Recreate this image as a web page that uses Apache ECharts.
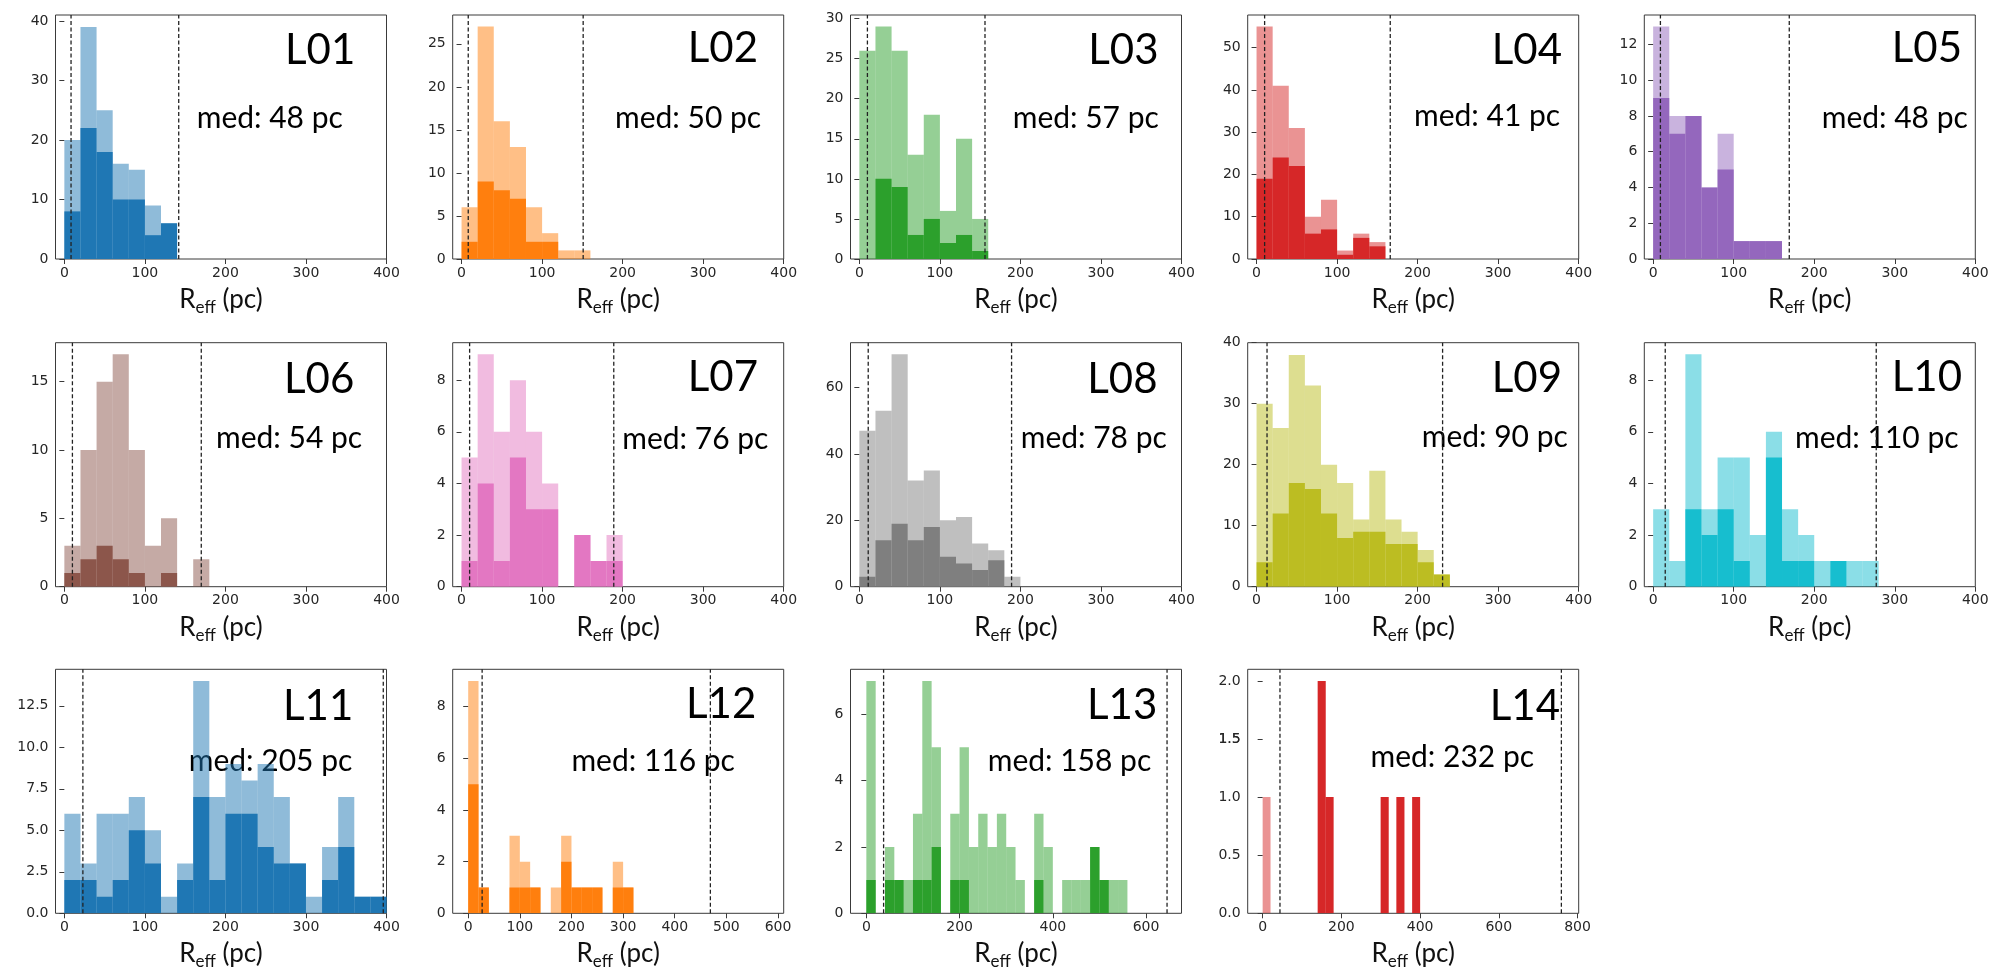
<!DOCTYPE html>
<html><head><meta charset="utf-8">
<script src="https://cdn.jsdelivr.net/npm/echarts@6/dist/echarts.min.js"></script>
<style>html,body{margin:0;padding:0;background:#fff}#c{width:1995px;height:968px}</style>
</head><body><div id="c"></div>
<script>
// ---------- data ----------
const panels = ['L01','L02','L03','L04','L05','L06','L07','L08','L09','L10','L11','L12','L13','L14'];
const medians = [48, 50, 57, 41, 48, 54, 76, 78, 90, 110, 205, 116, 158, 232];
const binWidth = 20; // pc, bins start at 0

const L01_all = [20, 39, 25, 16, 15, 9, 6];
const L01_sub = [8, 22, 18, 10, 10, 4, 6];
const L02_all = [6, 27, 16, 13, 6, 3, 1, 1];
const L02_sub = [2, 9, 8, 7, 2, 2, 0, 0];
const L03_all = [26, 29, 26, 13, 18, 6, 15, 5];
const L03_sub = [0, 10, 9, 3, 5, 2, 3, 1];
const L04_all = [55, 41, 31, 10, 14, 2, 6, 4];
const L04_sub = [19, 24, 22, 6, 7, 1, 5, 3];
const L05_all = [13, 8, 8, 4, 7, 1, 1, 1];
const L05_sub = [9, 7, 8, 4, 5, 1, 1, 1];
const L06_all = [3, 10, 15, 17, 10, 3, 5, 0, 2];
const L06_sub = [1, 2, 3, 2, 1, 0, 1, 0, 0];
const L07_all = [5, 9, 6, 8, 6, 4, 0, 2, 1, 2];
const L07_sub = [1, 4, 1, 5, 3, 3, 0, 2, 1, 1];
const L08_all = [47, 53, 70, 32, 35, 20, 21, 13, 11, 3];
const L08_sub = [3, 14, 19, 14, 18, 9, 7, 5, 8, 0];
const L09_all = [30, 26, 38, 33, 20, 17, 11, 19, 11, 9, 6, 2];
const L09_sub = [4, 12, 17, 16, 12, 8, 9, 9, 7, 7, 4, 2];
const L10_all = [3, 1, 9, 3, 5, 5, 2, 6, 3, 2, 1, 1, 1, 1];
const L10_sub = [0, 0, 3, 2, 3, 1, 0, 5, 1, 1, 0, 1, 0, 0];
const L11_all = [6, 3, 6, 6, 7, 5, 1, 3, 14, 7, 9, 8, 9, 7, 3, 1, 4, 7, 1, 1];
const L11_sub = [2, 2, 1, 2, 5, 3, 0, 2, 7, 2, 6, 6, 4, 3, 3, 0, 2, 4, 1, 1];
const L12_all = [9, 1, 0, 0, 3, 2, 1, 0, 1, 3, 1, 1, 1, 0, 2, 1];
const L12_sub = [5, 1, 0, 0, 1, 1, 1, 0, 0, 2, 1, 1, 1, 0, 1, 1];
const L13_all = [7, 0, 2, 1, 1, 3, 7, 5, 0, 3, 5, 2, 3, 2, 3, 2, 1, 0, 3, 2, 0, 1, 1, 1, 2, 1, 1, 1];
const L13_sub = [1, 0, 1, 1, 0, 1, 1, 2, 0, 1, 1, 0, 0, 0, 0, 0, 0, 0, 1, 0, 0, 0, 0, 0, 2, 1, 0, 0];
const L14_all = [1, 0, 0, 0, 0, 0, 0, 2, 1, 0, 0, 0, 0, 0, 0, 1, 0, 1, 0, 1];
const L14_sub = [0, 0, 0, 0, 0, 0, 0, 2, 1, 0, 0, 0, 0, 0, 0, 1, 0, 1, 0, 1];

const lowerLine = [8.3, 8.3, 10, 10, 9, 10, 10, 11, 13, 15, 23, 27, 37, 44];
const upperLine = [142, 151, 156, 166, 169, 170, 189, 189, 231, 277, 396, 469, 645, 759];

const xMin = [-11, -11, -11, -11, -11, -11, -11, -11, -11, -11, -11, -30, -34, -38];
const xMax = [400, 400, 400, 400, 400, 400, 400, 400, 400, 400, 400, 611, 676, 803];
const yMax = [41, 28.35, 30.45, 57.75, 13.65, 17.85, 9.45, 73.5, 40, 9.45, 14.7, 9.45, 7.35, 2.1];

const xTicksStd = [0, 100, 200, 300, 400];
const xTicksL12 = [0, 100, 200, 300, 400, 500, 600];
const xTicksL13 = [0, 200, 400, 600];
const xTicksL14 = [0, 200, 400, 600, 800];
const yTicks = [
  [0, 10, 20, 30, 40], [0, 5, 10, 15, 20, 25], [0, 5, 10, 15, 20, 25, 30], [0, 10, 20, 30, 40, 50],
  [0, 2, 4, 6, 8, 10, 12], [0, 5, 10, 15], [0, 2, 4, 6, 8], [0, 20, 40, 60], [0, 10, 20, 30, 40],
  [0, 2, 4, 6, 8], [0, 2.5, 5, 7.5, 10, 12.5], [0, 2, 4, 6, 8], [0, 2, 4, 6], [0, 0.5, 1, 1.5, 2]
];
const yDecimals = [0, 0, 0, 0, 0, 0, 0, 0, 0, 0, 1, 0, 0, 1];
const colors = ['#1f77b4', '#ff7f0e', '#2ca02c', '#d62728', '#9467bd', '#8c564b', '#e377c2',
  '#7f7f7f', '#bcbd22', '#17becf', '#1f77b4', '#ff7f0e', '#2ca02c', '#d62728'];

const allCounts = [L01_all, L02_all, L03_all, L04_all, L05_all, L06_all, L07_all, L08_all, L09_all, L10_all, L11_all, L12_all, L13_all, L14_all];
const subCounts = [L01_sub, L02_sub, L03_sub, L04_sub, L05_sub, L06_sub, L07_sub, L08_sub, L09_sub, L10_sub, L11_sub, L12_sub, L13_sub, L14_sub];
const xTicks = [xTicksStd, xTicksStd, xTicksStd, xTicksStd, xTicksStd, xTicksStd, xTicksStd, xTicksStd, xTicksStd, xTicksStd, xTicksStd, xTicksL12, xTicksL13, xTicksL14];

// ---------- layout ----------
const colLeft = [55.5, 452.7, 850.5, 1247.7, 1644.3];
const rowTop = [15, 342.7, 669.3];
const boxW = 331, boxH = 244;
const namePos = [[285, 66.7], [687.7, 64], [1088.3, 66.7], [1491.7, 66.7], [1891.7, 64],
  [284, 395], [687.7, 393.3], [1087.3, 395], [1491.7, 394], [1891.7, 393.3],
  [283, 722.3], [686, 720], [1087, 721.7], [1489.8, 722.3]];
const medPos = [[196.7, 130], [615, 129.3], [1012.7, 129.3], [1414, 127.3], [1821.7, 129.3],
  [216, 450], [622.3, 450.7], [1020.7, 450], [1421.7, 448.3], [1795, 450],
  [188.8, 772.3], [571.4, 772.3], [987.7, 772.3], [1370.5, 769]];

function rgba(hex, a) {
  const n = parseInt(hex.slice(1), 16);
  return 'rgba(' + (n >> 16 & 255) + ',' + (n >> 8 & 255) + ',' + (n & 255) + ',' + a + ')';
}
function histData(counts) {
  const out = [];
  counts.forEach((c, i) => { if (c > 0) out.push([i * binWidth, (i + 1) * binWidth, c]); });
  return out;
}
function barRenderer(fill) {
  return function (params, api) {
    const p0 = api.coord([api.value(0), 0]);
    const p1 = api.coord([api.value(1), api.value(2)]);
    return { type: 'rect', shape: { x: p0[0], y: p1[1], width: p1[0] - p0[0], height: p0[1] - p1[1] },
      style: { fill: fill } };
  };
}

const tickFont = { fontFamily: 'DejaVu Sans', fontSize: 14, color: '#262626' };
const grids = [], xAxes = [], yAxes = [], series = [], graphics = [];
panels.forEach((name, i) => {
  const r = Math.floor(i / 5), c = i % 5;
  const yt = yTicks[i];
  grids.push({ left: colLeft[c], top: rowTop[r], width: boxW, height: boxH, show: true,
    outerBoundsMode: 'none', containLabel: false,
    borderColor: '#3a3a3a', borderWidth: 1, backgroundColor: 'transparent' });
  xAxes.push({ type: 'value', gridIndex: i, min: xMin[i], max: xMax[i],
    axisLine: { show: false }, splitLine: { show: false },
    axisTick: { show: true, length: 5, lineStyle: { color: '#3a3a3a' }, customValues: xTicks[i] },
    axisLabel: Object.assign({ margin: 7, customValues: xTicks[i], hideOverlap: false, formatter: v => String(v) }, tickFont),
    name: '{r|R}{s|eff}{r| (pc)}', nameLocation: 'middle', nameGap: 25, nameMoveOverlap: false,
    nameTextStyle: { verticalAlign: 'top', rich: {
      r: { fontFamily: 'Lato', fontSize: 26, color: '#111', lineHeight: 31 },
      s: { fontFamily: 'Lato', fontSize: 17, color: '#111', lineHeight: 31, padding: [16, 0, 0, 0] } } } });
  yAxes.push({ type: 'value', gridIndex: i, min: 0, max: yMax[i],
    axisLine: { show: false }, splitLine: { show: false },
    axisTick: { show: true, length: 5, lineStyle: { color: '#3a3a3a' }, customValues: yt },
    axisLabel: Object.assign({ margin: 7, customValues: yt, hideOverlap: false, interval: 0,
      showMinLabel: true, showMaxLabel: true,
      formatter: v => Number(v).toFixed(yDecimals[i]) }, tickFont) });
  series.push({ type: 'custom', xAxisIndex: i, yAxisIndex: i, clip: true, silent: true,
    renderItem: barRenderer(rgba(colors[i], 0.5)), encode: { x: [0, 1], y: 2 }, data: histData(allCounts[i]) });
  series.push({ type: 'custom', xAxisIndex: i, yAxisIndex: i, clip: true, silent: true,
    renderItem: barRenderer(colors[i]), encode: { x: [0, 1], y: 2 }, data: histData(subCounts[i]) });
  [lowerLine[i], upperLine[i]].forEach(xv => {
    series.push({ type: 'line', xAxisIndex: i, yAxisIndex: i, symbol: 'none', silent: true,
      data: [[xv, 0], [xv, yMax[i]]],
      lineStyle: { color: '#222', width: 1.3, type: [4, 2.5] } });
  });
  graphics.push({ type: 'text', x: namePos[i][0], y: namePos[i][1] - 0.38 * 42, silent: true,
    style: { text: name, font: '42px Lato', fill: '#000', verticalAlign: 'middle' } });
  graphics.push({ type: 'text', x: medPos[i][0], y: medPos[i][1] - 0.38 * 30, silent: true,
    style: { text: 'med: ' + medians[i] + ' pc', font: '30px Lato', fill: '#000', verticalAlign: 'middle' } });
});

// extra label-only y axis on the last panel (same scale) so every tick value gets its label
const lastIdx = panels.length - 1;
yAxes.push({ type: 'value', gridIndex: lastIdx, position: 'left', min: 0, max: yMax[lastIdx],
  axisLine: { show: false }, splitLine: { show: false }, axisTick: { show: false },
  axisLabel: Object.assign({ margin: 7, customValues: [yTicks[lastIdx][3]], hideOverlap: false,
    formatter: v => Number(v).toFixed(yDecimals[lastIdx]) }, tickFont) });

const chart = echarts.init(document.getElementById('c'), null, { renderer: 'canvas' });
chart.setOption({ animation: false, backgroundColor: '#fff', grid: grids, xAxis: xAxes, yAxis: yAxes,
  series: series, graphic: graphics });
</script></body></html>
